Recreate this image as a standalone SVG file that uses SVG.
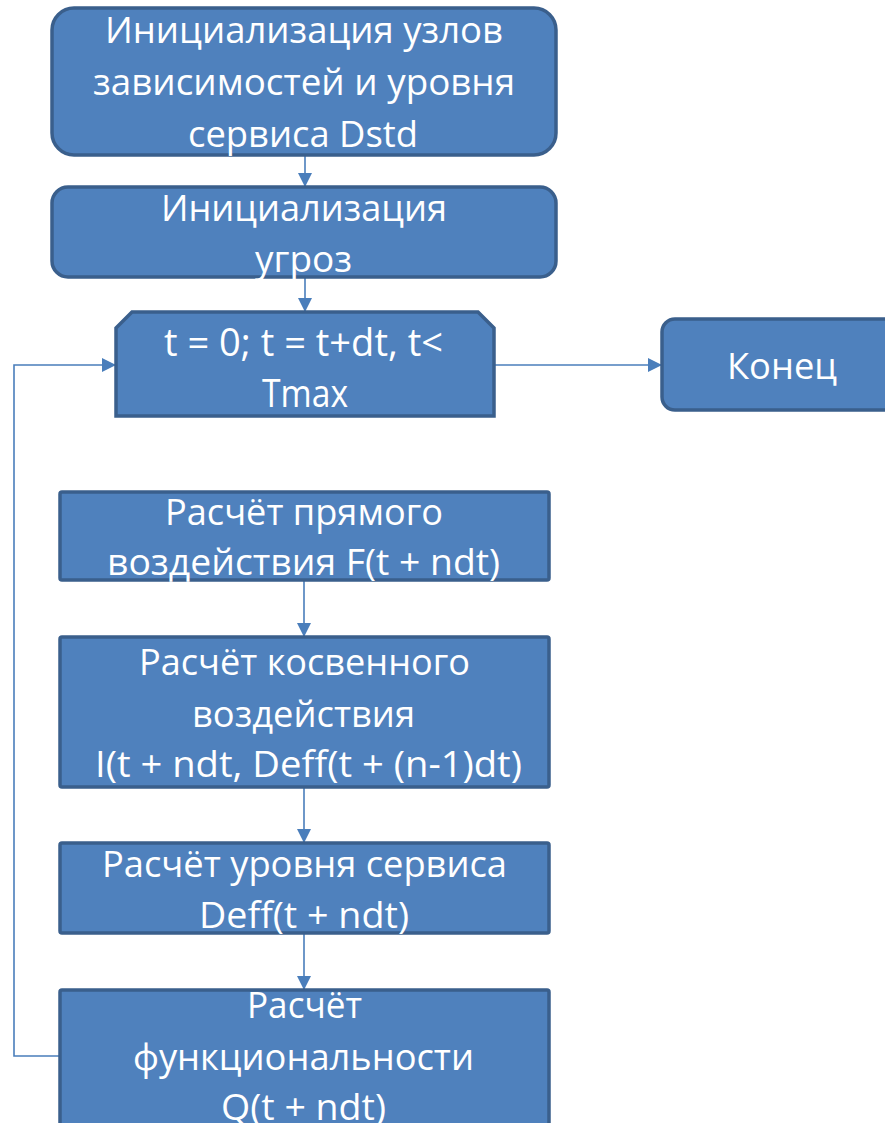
<svg xmlns="http://www.w3.org/2000/svg" width="885" height="1123" viewBox="0 0 885 1123">
<defs>
<style>
.box{fill:#4f81bd;stroke:#3a5f8c;stroke-width:3.5}
.t{fill:#ffffff;font-family:"Open Sans","Noto Sans","Liberation Sans",sans-serif;font-size:36px;text-anchor:start}
.c{fill:none;stroke:#4a7ebb;stroke-width:1.6}
</style>
<marker id="ah" markerWidth="14" markerHeight="14" refX="13" refY="7" orient="auto" markerUnits="userSpaceOnUse">
<path d="M0,0 L14,7 L0,14 Z" fill="#4a7ebb"/>
</marker>
</defs>
<rect width="885" height="1123" fill="#ffffff"/>
<g id="connectors">
<line class="c" x1="305" y1="155" x2="305" y2="186" marker-end="url(#ah)"/>
<line class="c" x1="305" y1="278" x2="305" y2="311" marker-end="url(#ah)"/>
<line class="c" x1="494" y1="365" x2="661" y2="365" marker-end="url(#ah)"/>
<polyline class="c" points="62,1056 14,1056 14,365 115,365" marker-end="url(#ah)"/>
<line class="c" x1="304" y1="580" x2="304" y2="636" marker-end="url(#ah)"/>
<line class="c" x1="304" y1="787" x2="304" y2="842" marker-end="url(#ah)"/>
<line class="c" x1="304" y1="933" x2="304" y2="989" marker-end="url(#ah)"/>
</g>
<g id="n1">
<rect class="box" x="52" y="8" width="504" height="147" rx="22"/>
<text class="t" x="105" y="43" textLength="398" lengthAdjust="spacingAndGlyphs">Инициализация узлов</text>
<text class="t" x="93" y="95" textLength="422" lengthAdjust="spacingAndGlyphs">зависимостей и уровня</text>
<text class="t" x="188" y="147" textLength="230" lengthAdjust="spacingAndGlyphs">сервиса Dstd</text>
</g>
<g id="n2">
<rect class="box" x="52" y="187" width="504" height="90" rx="16"/>
<text class="t" x="161" y="221" textLength="286" lengthAdjust="spacingAndGlyphs">Инициализация</text>
<text class="t" x="255" y="272" textLength="97" lengthAdjust="spacingAndGlyphs">угроз</text>
</g>
<g id="n3">
<path class="box" d="M116,328 L132,312 L478,312 L494,328 L494,416 L116,416 Z"/>
<text class="t" x="164" y="356" textLength="279" lengthAdjust="spacingAndGlyphs" style="font-size:38px">t = 0; t = t+dt, t&lt;</text>
<text class="t" x="262" y="407" textLength="86" lengthAdjust="spacingAndGlyphs" style="font-size:38px">Tmax</text>
</g>
<g id="n4">
<rect class="box" x="662" y="319" width="240" height="91" rx="13"/>
<text class="t" x="727" y="379" textLength="110" lengthAdjust="spacingAndGlyphs">Конец</text>
</g>
<g id="n5">
<rect class="box" x="60" y="492" width="489" height="88" rx="2"/>
<text class="t" x="165" y="525" textLength="278" lengthAdjust="spacingAndGlyphs">Расчёт прямого</text>
<text class="t" x="107" y="575" textLength="393" lengthAdjust="spacingAndGlyphs">воздействия F(t + ndt)</text>
</g>
<g id="n6">
<rect class="box" x="60" y="637" width="489" height="150" rx="2"/>
<text class="t" x="139" y="675" textLength="331" lengthAdjust="spacingAndGlyphs">Расчёт косвенного</text>
<text class="t" x="192" y="727" textLength="223" lengthAdjust="spacingAndGlyphs">воздействия</text>
<text class="t" x="95" y="777" textLength="427" lengthAdjust="spacingAndGlyphs">I(t + ndt, Deff(t + (n-1)dt)</text>
</g>
<g id="n7">
<rect class="box" x="60" y="843" width="489" height="90" rx="2"/>
<text class="t" x="102" y="877" textLength="405" lengthAdjust="spacingAndGlyphs">Расчёт уровня сервиса</text>
<text class="t" x="199" y="928" textLength="210" lengthAdjust="spacingAndGlyphs">Deff(t + ndt)</text>
</g>
<g id="n8">
<rect class="box" x="60" y="990" width="489" height="145" rx="2"/>
<text class="t" x="247" y="1018" textLength="115" lengthAdjust="spacingAndGlyphs">Расчёт</text>
<text class="t" x="133" y="1070" textLength="341" lengthAdjust="spacingAndGlyphs">функциональности</text>
<text class="t" x="221" y="1120" textLength="165" lengthAdjust="spacingAndGlyphs">Q(t + ndt)</text>
</g>
</svg>
